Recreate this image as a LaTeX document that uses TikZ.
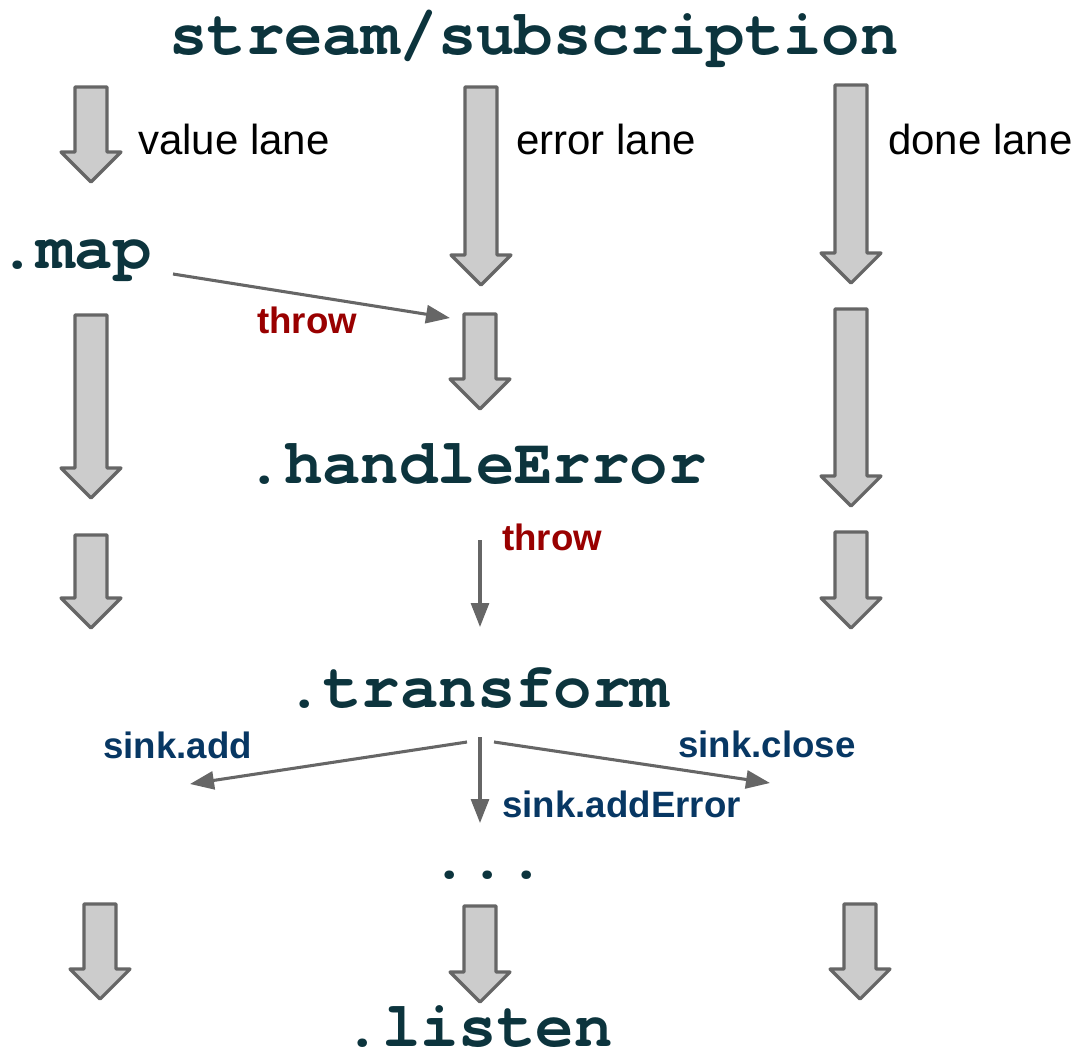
\documentclass[tikz,border=0pt]{standalone}
\usepackage{fontspec}
\setmainfont{Liberation Sans}
\setmonofont{TeX Gyre Cursor}
\usepackage{tikz}
\usetikzlibrary{arrows.meta}
\definecolor{codeteal}{RGB}{12,52,61}
\definecolor{throwred}{RGB}{153,0,0}
\definecolor{sinkblue}{RGB}{7,55,99}
\definecolor{lanefill}{RGB}{204,204,204}
\definecolor{lanedraw}{RGB}{102,102,102}

\tikzset{
  codetext/.style={font=\ttfamily\bfseries\fontsize{48}{50}\selectfont, text=codeteal, inner sep=0pt, anchor=base},
  lanetext/.style={font=\fontsize{31.5}{34}\selectfont, inner sep=0pt, anchor=base west},
  throwtext/.style={font=\bfseries\fontsize{27.5}{30}\selectfont, text=throwred, inner sep=0pt, anchor=base west},
  sinktext/.style={font=\bfseries\fontsize{27.5}{30}\selectfont, text=sinkblue, inner sep=0pt, anchor=base west},
  bigarrow/.style={draw=lanedraw, fill=lanefill, line width=2.4pt, line join=round},
  flow/.style={draw=lanedraw, line width=2.3pt, -{Triangle[length=18pt,width=13.5pt]}}
}

% x, top, tip
\newcommand{\lanearrow}[3]{
  \path[bigarrow] ({#1-16},#2) -- ({#1+16},#2) -- ({#1+16},{#3-30}) -- ({#1+30},{#3-30})
    -- (#1,#3) -- ({#1-30},{#3-30}) -- ({#1-16},{#3-30}) -- cycle;
}

\begin{document}
\begin{tikzpicture}[x=0.75pt,y=-0.75pt]
  \useasboundingbox (0,0) rectangle (1079,1054);

  \node[codetext] (stream) at (534,54) {stream/subscription};

  % the three lanes
  \foreach \x/\top/\tip in {91/87/182, 91/315/498, 91/535/628, 100/904/999,
      481/87/285, 480/314/409, 480/906/1002,
      851/85/283, 851/309/506, 851/532/628, 860/904/999}
    {\lanearrow{\x}{\top}{\tip}}

  \node[lanetext] (value) at (138,154) {value lane};
  \node[lanetext] (error) at (516,154) {error lane};
  \node[lanetext] (done) at (888,154) {done lane};

  \node[codetext] (map) at (75,268) {.map};
  \node[codetext] (handle) at (476,483) {.handleError};
  \node[codetext] (transform) at (477,707) {.transform};
  \node[codetext] (dots) at (488,878) {...};
  \node[codetext, text depth=0pt] (listen) at (478,1046) {.listen};

  \coordinate (mapout) at (173,274);
  \coordinate (errin) at (450,318);
  \coordinate (handleout) at (480,540);
  \coordinate (transin) at (480,627);
  \coordinate (fanleft) at (467,742);
  \coordinate (fanmid) at (480,737);
  \coordinate (fanright) at (494,742);
  \coordinate (addend) at (190,784);
  \coordinate (errend) at (480,823);
  \coordinate (closeend) at (770,783);

  \draw[flow] (mapout) -- (errin);
  \draw[flow] (handleout) -- (transin);
  \draw[flow] (fanleft) -- (addend);
  \draw[flow] (fanmid) -- (errend);
  \draw[flow] (fanright) -- (closeend);

  \node[throwtext] (throwmap) at (257,333) {throw};
  \node[throwtext] (throwhandle) at (502,550) {throw};
  \node[sinktext] (sinkadd) at (103,758) {sink.add};
  \node[sinktext] (sinkclose) at (678,757) {sink.close};
  \node[sinktext] (sinkerror) at (502,817) {sink.addError};
\end{tikzpicture}
\end{document}
